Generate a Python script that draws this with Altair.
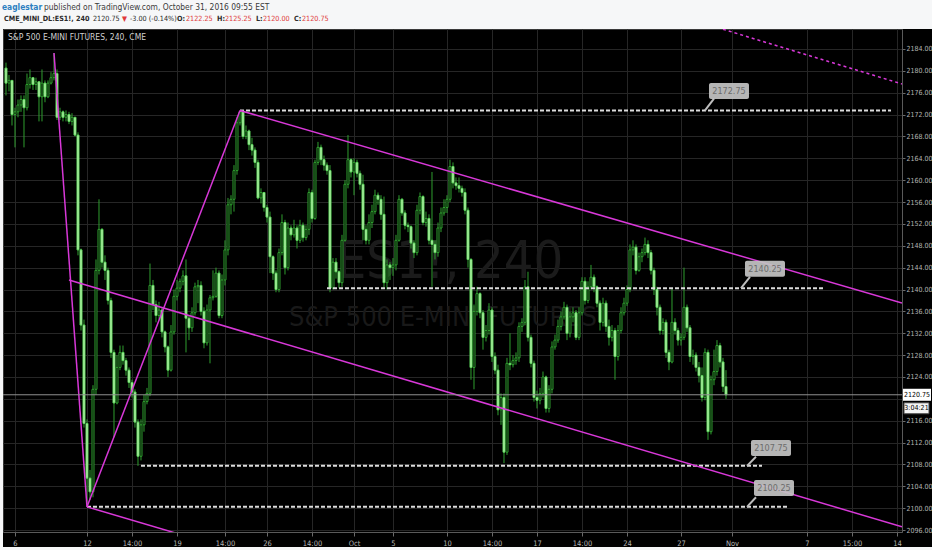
import altair as alt
import pandas as pd

# ---------------- ES1! 240-minute bars, 6 Sep - 31 Oct 2016 ----------------
first_open = 2180.50

close = [
    2177.75, 2178.25, 2172.00, 2172.50, 2173.75, 2174.75, 2173.25, 2177.50, 2178.75, 2177.50,
    2178.00, 2175.25, 2177.75, 2175.25, 2177.75, 2178.75, 2179.50, 2171.50, 2172.50, 2171.50,
    2172.00, 2170.75, 2171.50, 2168.25, 2147.25, 2133.50, 2115.50, 2105.50, 2103.00, 2121.75,
    2143.50, 2151.00, 2145.00, 2143.50, 2138.00, 2128.50, 2119.25, 2125.75, 2128.50, 2127.00,
    2125.25, 2123.00, 2121.25, 2115.75, 2109.50, 2115.25, 2119.50, 2121.00, 2140.75, 2137.25,
    2135.25, 2136.25, 2132.25, 2129.50, 2125.25, 2132.25, 2138.75, 2140.25, 2141.50, 2142.50,
    2134.75, 2133.00, 2135.75, 2140.50, 2140.75, 2136.00, 2130.25, 2136.25, 2138.50, 2138.75,
    2143.00, 2135.25, 2141.75, 2147.25, 2155.50, 2156.50, 2161.75, 2170.50, 2172.50, 2168.00,
    2169.00, 2166.50, 2165.50, 2163.25, 2156.75, 2157.75, 2155.00, 2153.25, 2146.00, 2143.00,
    2140.00, 2146.75, 2152.25, 2144.00, 2151.25, 2150.00, 2151.25, 2149.00, 2151.75, 2149.50,
    2151.00, 2157.75, 2153.00, 2163.25, 2166.00, 2163.75, 2162.75, 2161.75, 2140.25, 2145.00,
    2143.25, 2141.25, 2149.00, 2159.25, 2163.75, 2161.50, 2163.25, 2161.25, 2159.25, 2151.00,
    2149.00, 2152.25, 2154.25, 2157.25, 2156.50, 2153.75, 2141.25, 2144.50, 2144.00, 2144.50,
    2149.00, 2156.50, 2154.00, 2151.75, 2151.50, 2148.50, 2146.75, 2154.50, 2157.00, 2152.25,
    2153.00, 2149.00, 2148.25, 2146.75, 2151.25, 2154.00, 2155.00, 2156.50, 2162.50, 2159.50,
    2159.00, 2158.50, 2157.75, 2154.50, 2145.50, 2125.75, 2136.00, 2139.25, 2135.75, 2131.25,
    2132.50, 2136.25, 2127.75, 2125.25, 2118.00, 2120.25, 2110.25, 2126.50, 2126.25, 2127.00,
    2127.50, 2133.25, 2134.00, 2140.50, 2131.25, 2126.50, 2120.25, 2119.75, 2121.00, 2124.00,
    2118.25, 2121.75, 2129.50, 2130.75, 2133.25, 2135.00, 2136.75, 2132.00, 2135.00, 2135.75,
    2131.25, 2135.75, 2141.50, 2138.00, 2140.50, 2142.25, 2140.50, 2137.50, 2134.00, 2137.50,
    2133.25, 2131.25, 2132.50, 2127.75, 2132.50, 2135.75, 2137.50, 2140.00, 2147.25, 2147.75,
    2143.50, 2146.00, 2146.75, 2148.25, 2146.75, 2143.50, 2140.00, 2136.75, 2132.50, 2134.00,
    2128.50, 2126.75, 2134.00, 2132.50, 2130.75, 2131.25, 2136.75, 2133.00, 2127.75, 2128.00,
    2125.75, 2124.25, 2120.25, 2128.50, 2114.00, 2123.50, 2125.00, 2129.75, 2126.75, 2122.25,
    2120.75,
]

high = [
    2181.50, 2179.25, 2178.25, 2173.25, 2174.75, 2175.50, 2175.50, 2179.50, 2180.25, 2178.75,
    2178.75, 2178.00, 2180.25, 2178.25, 2178.25, 2179.75, 2183.25, 2180.25, 2173.25, 2172.75,
    2172.75, 2172.50, 2172.25, 2171.50, 2168.75, 2147.50, 2134.50, 2116.25, 2107.00, 2122.50,
    2145.50, 2156.50, 2151.25, 2146.25, 2144.00, 2138.50, 2129.00, 2128.00, 2129.75, 2129.75,
    2127.50, 2125.75, 2123.50, 2121.75, 2116.25, 2116.25, 2120.75, 2122.00, 2144.75, 2141.75,
    2138.00, 2137.75, 2136.75, 2132.50, 2129.75, 2133.50, 2140.00, 2141.75, 2142.00, 2143.50,
    2145.50, 2135.25, 2136.75, 2141.25, 2141.75, 2141.50, 2136.75, 2137.25, 2139.00, 2143.50,
    2144.00, 2143.50, 2142.75, 2149.00, 2156.75, 2157.25, 2162.75, 2171.50, 2172.75, 2172.50,
    2170.00, 2169.25, 2167.75, 2166.00, 2163.75, 2158.50, 2157.75, 2155.50, 2154.25, 2146.25,
    2143.50, 2147.50, 2153.75, 2152.75, 2152.25, 2151.75, 2152.75, 2151.75, 2152.75, 2152.25,
    2151.75, 2158.50, 2158.25, 2163.75, 2167.00, 2166.50, 2164.50, 2163.25, 2162.75, 2145.75,
    2145.75, 2143.50, 2150.00, 2160.00, 2168.25, 2164.00, 2164.00, 2163.75, 2161.75, 2161.00,
    2151.75, 2153.75, 2155.50, 2158.25, 2157.75, 2157.25, 2157.00, 2145.50, 2145.00, 2145.75,
    2150.00, 2157.25, 2156.75, 2154.50, 2152.25, 2151.75, 2149.00, 2155.50, 2157.75, 2157.25,
    2154.25, 2153.75, 2161.50, 2149.00, 2152.25, 2155.00, 2156.50, 2157.25, 2163.75, 2163.25,
    2160.50, 2160.50, 2159.00, 2158.50, 2155.00, 2145.75, 2137.25, 2140.50, 2139.50, 2136.25,
    2133.50, 2137.50, 2136.75, 2128.50, 2126.25, 2121.00, 2121.00, 2127.50, 2132.00, 2128.00,
    2128.50, 2134.00, 2134.75, 2141.75, 2143.25, 2131.75, 2127.00, 2121.50, 2122.00, 2125.00,
    2124.25, 2122.50, 2130.50, 2131.75, 2134.50, 2136.00, 2137.75, 2137.25, 2136.00, 2136.75,
    2136.25, 2136.75, 2142.25, 2142.25, 2141.50, 2144.50, 2142.75, 2140.75, 2138.00, 2138.50,
    2138.00, 2134.50, 2133.50, 2133.00, 2133.50, 2136.75, 2138.50, 2140.75, 2148.25, 2149.00,
    2148.25, 2146.75, 2147.50, 2149.50, 2149.00, 2147.25, 2144.00, 2140.50, 2137.25, 2134.75,
    2134.50, 2129.00, 2140.25, 2134.75, 2133.00, 2132.00, 2144.00, 2137.25, 2133.50, 2129.00,
    2128.50, 2126.75, 2125.75, 2129.25, 2129.00, 2124.25, 2129.00, 2130.75, 2130.25, 2127.50,
    2125.25,
]

low = [
    2175.50, 2176.25, 2170.00, 2166.00, 2171.50, 2172.50, 2166.00, 2172.75, 2176.75, 2176.50,
    2176.50, 2170.75, 2170.75, 2174.25, 2175.00, 2177.50, 2178.25, 2171.00, 2171.00, 2170.75,
    2170.75, 2170.25, 2170.00, 2168.00, 2146.25, 2132.50, 2114.75, 2100.25, 2101.50, 2102.00,
    2120.75, 2142.75, 2144.00, 2141.75, 2137.25, 2127.50, 2113.00, 2119.00, 2125.25, 2126.25,
    2124.25, 2122.00, 2120.25, 2114.75, 2107.75, 2108.75, 2114.00, 2119.00, 2120.50, 2136.25,
    2134.00, 2134.50, 2131.25, 2128.50, 2124.00, 2125.00, 2131.75, 2138.00, 2139.50, 2140.75,
    2128.50, 2130.75, 2132.25, 2135.25, 2137.50, 2135.25, 2129.25, 2129.75, 2126.50, 2138.00,
    2138.50, 2134.75, 2134.75, 2140.75, 2146.25, 2153.75, 2154.25, 2161.00, 2170.00, 2167.50,
    2167.50, 2165.50, 2164.50, 2162.25, 2156.50, 2155.75, 2154.25, 2152.25, 2143.00, 2141.75,
    2139.50, 2139.50, 2146.25, 2142.75, 2143.50, 2149.00, 2149.50, 2147.50, 2148.50, 2148.75,
    2149.00, 2150.00, 2152.25, 2152.75, 2162.75, 2162.75, 2161.75, 2161.00, 2139.50, 2140.00,
    2142.00, 2140.25, 2140.50, 2148.75, 2158.50, 2160.50, 2157.25, 2160.50, 2158.25, 2149.00,
    2148.25, 2148.25, 2151.25, 2153.75, 2155.50, 2152.75, 2140.25, 2140.00, 2141.75, 2142.50,
    2143.50, 2148.75, 2153.50, 2151.00, 2150.50, 2147.50, 2145.75, 2146.25, 2153.75, 2151.75,
    2151.50, 2148.25, 2140.50, 2145.50, 2146.00, 2150.50, 2153.50, 2154.00, 2156.00, 2158.50,
    2158.25, 2157.75, 2157.00, 2153.75, 2144.00, 2123.50, 2121.75, 2135.25, 2134.75, 2129.00,
    2130.50, 2131.75, 2126.75, 2124.50, 2117.00, 2115.25, 2108.25, 2109.75, 2125.25, 2125.75,
    2126.25, 2126.75, 2132.25, 2133.50, 2130.50, 2125.75, 2119.50, 2118.25, 2119.00, 2120.25,
    2117.50, 2117.50, 2121.00, 2129.00, 2130.25, 2132.50, 2134.50, 2130.75, 2131.25, 2134.00,
    2130.75, 2130.75, 2135.25, 2137.25, 2137.50, 2140.00, 2139.50, 2136.75, 2132.50, 2133.25,
    2132.25, 2129.75, 2130.50, 2123.50, 2127.00, 2132.00, 2135.25, 2137.00, 2139.50, 2146.25,
    2142.75, 2143.25, 2145.00, 2146.25, 2145.75, 2142.75, 2139.00, 2135.25, 2131.75, 2131.75,
    2127.50, 2125.25, 2126.50, 2131.75, 2129.75, 2129.75, 2130.75, 2132.25, 2126.75, 2126.25,
    2125.00, 2123.00, 2119.50, 2119.75, 2112.50, 2113.50, 2122.50, 2124.25, 2125.75, 2121.25,
    2120.00,
]

# time axis (bar positions of session starts and their labels)
tick_bars = [3, 27, 42, 57, 73, 87, 102, 116, 129, 147, 162, 177, 192, 207, 225, 242, 267, 282, 297]
tick_labels = ["6", "12", "14:00", "19", "14:00", "26", "14:00", "Oct", "5", "10",
               "14:00", "17", "14:00", "24", "27", "Nov", "7", "15:00", "14"]
price_ticks = list(range(2096, 2185, 4))

# horizontal levels
level_price = [2172.75, 2140.25, 2107.75, 2100.25]
level_start = [78, 107, 45, 27]
level_end = [295, 273, 252, 261]
callout_anchor = [233, 245, 247, 247]
callout_tip_bar = [236, 248, 250, 250]
callout_tip_price = [2174.9, 2142.3, 2109.4, 2102.0]
callout_bar = [241, 253, 255, 256]
callout_price = [2176.3, 2143.8, 2111.0, 2103.7]

# trend lines (start bar, start price, end bar, end price)
trend_b1 = [16, 27, 78, 21, 27]
trend_p1 = [2183.25, 2100.25, 2172.75, 2141.75, 2100.25]
trend_b2 = [27, 78, 298.67, 298.67, 60]
trend_p2 = [2100.25, 2172.75, 2137.55, 2096.60, 2094.90]
dash_b1, dash_p1, dash_b2, dash_p2 = [239], [2187.6], [298.67], [2177.6]

last_price = 2120.75
countdown = "3:04:21"

# ---------------- frames ----------------
opens = [first_open] + close[:-1]
bars = pd.DataFrame({"bar": range(len(close)), "open": opens, "high": high,
                     "low": low, "close": close})
bars["dir"] = ["up" if c >= o else "down" for o, c in zip(bars["open"], bars["close"])]

levels = pd.DataFrame({"price": level_price, "b1": level_start, "b2": level_end})
callouts = pd.DataFrame({"price": level_price, "anchor": callout_anchor,
                         "tip_b": callout_tip_bar, "tip_p": callout_tip_price,
                         "box_b": callout_bar, "box_p": callout_price,
                         "label": [f"{p:.2f}" for p in level_price]})
trends = pd.DataFrame({"b1": trend_b1, "p1": trend_p1, "b2": trend_b2, "p2": trend_p2})
dash_trend = pd.DataFrame({"b1": dash_b1, "p1": dash_p1, "b2": dash_b2, "p2": dash_p2})
last = pd.DataFrame({"p": [last_price], "t": [f"{last_price:.2f}"], "cd": [countdown]})

# ---------------- scales / styling ----------------
W, H = 899, 503
PAD_L, PAD_T = 3, 29
FONT = "DejaVu Sans Condensed, DejaVu Sans, sans-serif"
XS = alt.Scale(domain=[-1, 298.67], nice=False, zero=False)
YS = alt.Scale(domain=[2095.65, 2187.65], nice=False, zero=False)
MAGENTA = "#d838d8"

label_expr = "[" + ",".join(f"'{t}'" for t in tick_labels) + "][indexof([" + \
    ",".join(str(b) for b in tick_bars) + "], datum.value)]"
# the price tag covers the scale label nearest the last price
price_label_expr = f"abs(datum.value - {last_price}) < 2 ? '' : format(datum.value, '.2f')"

X_AXIS = alt.Axis(values=tick_bars, labelExpr=label_expr, grid=True, gridColor="#262626",
                  domainColor="#5a5a5a", tickColor="#6a6a6a", tickSize=4, labelColor="#b4b4b4",
                  labelFontSize=7.5, labelFont=FONT, labelPadding=3, labelOverlap=False,
                  labelFlush=False, title=None)
Y_AXIS = alt.Axis(orient="right", values=price_ticks, labelExpr=price_label_expr, grid=True,
                  gridColor="#262626", domainColor="#5a5a5a", tickColor="#6a6a6a", tickSize=3,
                  labelColor="#b4b4b4", labelFontSize=7, labelFont=FONT, labelPadding=1,
                  labelOverlap=False, labelFlush=False, title=None)


def xq(field):
    return alt.X(field, type="quantitative", scale=XS, axis=X_AXIS, title=None)


def yq(field):
    return alt.Y(field, type="quantitative", scale=YS, axis=Y_AXIS, title=None)


def text_at(txt, ax, ay, size, color, weight="normal", align="left", font=FONT):
    """Fixed annotation text at absolute page coordinates."""
    return alt.Chart(pd.DataFrame({"t": [txt]})).mark_text(
        align=align, baseline="middle", fontSize=size, font=font, fontWeight=weight,
        color=color, clip=False
    ).encode(x=alt.value(ax - PAD_L), y=alt.value(ay - PAD_T), text="t:N")


def box_at(ax1, ax2, ay1, ay2, color):
    return alt.Chart(pd.DataFrame({"k": [0]})).mark_rect(color=color, clip=False).encode(
        x=alt.value(ax1 - PAD_L), x2=alt.value(ax2 - PAD_L),
        y=alt.value(ay1 - PAD_T), y2=alt.value(ay2 - PAD_T))


# page frame: light header band and edges around the black chart panel
header_bg = box_at(0, 932, 0, 29, "#f6f7f8")
left_edge = box_at(0, 3, 29, 550, "#f6f7f8")
bottom_edge = box_at(0, 932, 547, 550, "#f6f7f8")

# watermark
wm_title = text_at("ES1!, 240", 450, 262, 52, "#1b1b1b", align="center")
wm_sub = text_at("S&P 500 E-MINI FUTURES", 443, 318, 27, "#191919", align="center")
panel_title = text_at("S&P 500 E-MINI FUTURES, 240, CME", 8, 37, 8.5, "#d0d0d0")

# candles
wicks = alt.Chart(bars).mark_rule(strokeWidth=1, color="#2f9f2f").encode(
    x=xq("bar"), y=yq("low"), y2="high")
bodies = alt.Chart(bars).mark_rect(strokeWidth=1, xOffset=-1, x2Offset=1).encode(
    x=xq("bar"), x2="bar", y=yq("open"), y2="close",
    fill=alt.Fill("dir:N", scale=alt.Scale(domain=["up", "down"], range=["#000000", "#cdf7bd"]),
                  legend=None),
    stroke=alt.Stroke("dir:N", scale=alt.Scale(domain=["up", "down"], range=["#2f9f2f", "#5ad45a"]),
                      legend=None))

# drawings
level_lines = alt.Chart(levels).mark_rule(color="#dcdcdc", strokeWidth=2, strokeDash=[4, 2]).encode(
    x=xq("b1"), x2="b2", y=yq("price"))
trend_lines = alt.Chart(trends).mark_rule(color=MAGENTA, strokeWidth=1.5, clip=True).encode(
    x=xq("b1"), x2="b2", y=yq("p1"), y2="p2")
trend_dash = alt.Chart(dash_trend).mark_rule(color=MAGENTA, strokeWidth=1.5, strokeDash=[3, 3],
                                             clip=True).encode(
    x=xq("b1"), x2="b2", y=yq("p1"), y2="p2")

last_line = alt.Chart(last).mark_rule(color="#8f8f8f", strokeWidth=1).encode(y=yq("p"))

callout_ptr = alt.Chart(callouts).mark_rule(color="#bdbdbd", strokeWidth=2).encode(
    x=xq("anchor"), x2="tip_b", y=yq("price"), y2="tip_p")
callout_box = alt.Chart(callouts).mark_rect(
    color="#c4c4c4", opacity=0.92, cornerRadius=2, xOffset=-20, x2Offset=20, yOffset=-8, y2Offset=8
).encode(x=xq("box_b"), x2="box_b", y=yq("box_p"), y2="box_p")
callout_text = alt.Chart(callouts).mark_text(
    fontSize=9, font=FONT, color="#6c6c6c", align="center", baseline="middle"
).encode(x=xq("box_b"), y=yq("box_p"), text="label:N")

# last price tag on the price scale
tag_box = alt.Chart(last).mark_rect(color="#ffffff", yOffset=-6, y2Offset=6, clip=False).encode(
    x=alt.value(900), x2=alt.value(928), y=yq("p"), y2="p")
tag_text = alt.Chart(last).mark_text(fontSize=7, font=FONT, color="#000000", align="center",
                                     baseline="middle", clip=False).encode(
    x=alt.value(914), y=yq("p"), text="t:N")
cd_box = alt.Chart(last).mark_rect(color="#f4f4f4", stroke="#444444", strokeWidth=1,
                                   yOffset=8, y2Offset=19, clip=False).encode(
    x=alt.value(901), x2=alt.value(926), y=yq("p"), y2="p")
cd_text = alt.Chart(last).mark_text(fontSize=7, font=FONT, color="#000000", align="center",
                                    baseline="middle", yOffset=13.5, clip=False).encode(
    x=alt.value(913.5), y=yq("p"), text="cd:N")

# header lines
RED = "#e03a3a"
DARK = "#2a2a2a"
HS = 7.2
header = [
    text_at("eaglestar", 2, 7, 8.4, "#2d7fc1", "bold"),
    text_at("published on TradingView.com, October 31, 2016 09:55 EST", 44, 7, 8.4, "#3a3a3a"),
    text_at("CME_MINI_DL:ES1!, 240", 4, 19, HS, DARK, "bold"),
    text_at("2120.75", 93, 19, HS, DARK),
    text_at("\u25bc", 122, 19, HS, RED),
    text_at("-3.00 (-0.14%)", 130, 19, HS, DARK),
    text_at("O:", 177, 19, HS, DARK, "bold"),
    text_at("2122.25", 186, 19, HS, RED),
    text_at("H:", 217, 19, HS, DARK, "bold"),
    text_at("2125.25", 225, 19, HS, RED),
    text_at("L:", 256, 19, HS, DARK, "bold"),
    text_at("2120.00", 263, 19, HS, RED),
    text_at("C:", 294, 19, HS, DARK, "bold"),
    text_at("2120.75", 302, 19, HS, RED),
]

chart = alt.layer(
    header_bg, left_edge, bottom_edge, wm_title, wm_sub, panel_title,
    wicks, bodies, level_lines, trend_lines, trend_dash, last_line,
    callout_ptr, callout_box, callout_text,
    tag_box, tag_text, cd_box, cd_text, *header
).properties(
    width=W, height=H,
    padding={"left": PAD_L, "top": PAD_T, "right": 30, "bottom": 18},
    autosize=alt.AutoSizeParams(type="none"),
    background="#000000",
).configure_view(stroke="#3a3a3a")

chart.save("out.html", embed_options={"renderer": "svg", "actions": False})
